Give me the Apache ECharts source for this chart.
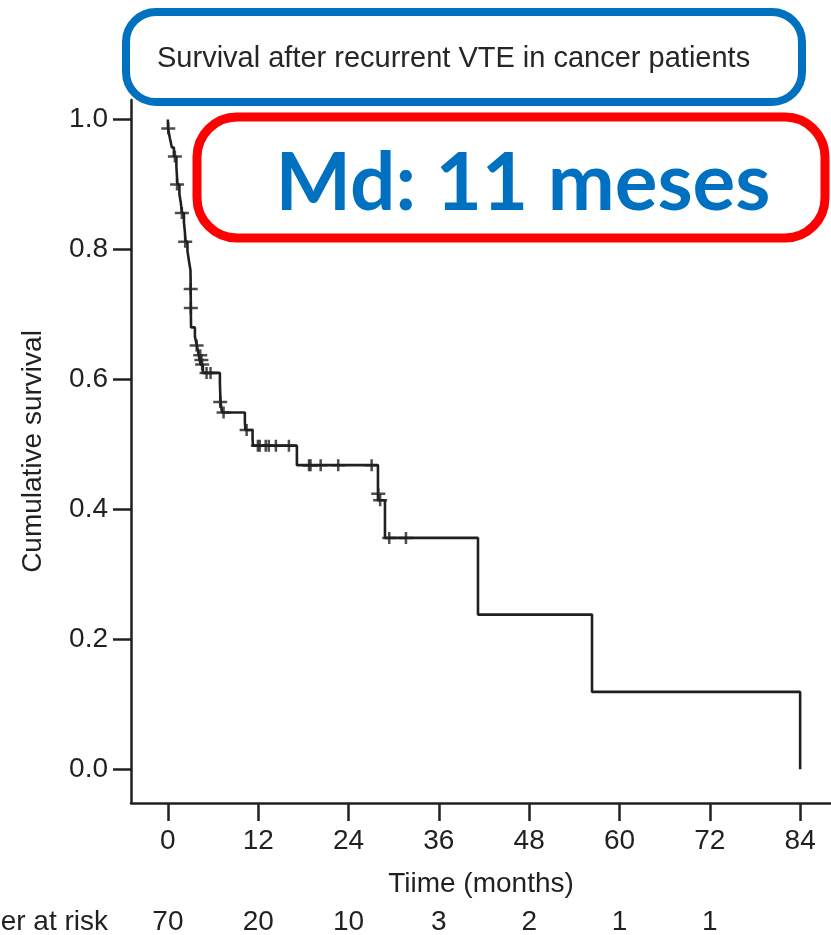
<!DOCTYPE html>
<html><head><meta charset="utf-8">
<script src="https://cdn.jsdelivr.net/npm/echarts@6/dist/echarts.min.js"></script>
<style>html,body{margin:0;padding:0;background:#fff}#c{width:831px;height:935px}</style>
</head><body><div id="c"></div>
<script>
const titleText = 'Survival after recurrent VTE in cancer patients';
const medianText = 'Md: 11 meses';
const xName = 'Tiime (months)';
const yName = 'Cumulative survival';
const riskTitle = 'Number at risk';
const xTicks = [0, 12, 24, 36, 48, 60, 72, 84];
const yTicks = [0, 0.2, 0.4, 0.6, 0.8, 1.0];

const stepTimes = [0, 0.02, 0.27, 0.53, 0.80, 1.13, 1.20, 1.26, 1.53, 1.73, 1.86, 2.13, 2.26, 2.33, 2.60, 2.79,
  3.00, 3.02, 3.03, 3.04, 3.05, 3.06, 3.08, 3.59, 3.85, 4.10, 4.35, 4.65,
  6.91, 6.95, 7.00, 7.20, 10.23, 10.30, 11.25, 11.30, 17.14, 27.91, 28.84, 41.20, 56.35, 84.00];
const stepSurv = [1.0, 0.986, 0.971, 0.957, 0.943, 0.928, 0.914, 0.900, 0.885, 0.871, 0.856, 0.842, 0.827, 0.812, 0.798, 0.783,
  0.768, 0.754, 0.739, 0.724, 0.710, 0.695, 0.680, 0.666, 0.652, 0.637, 0.623, 0.610,
  0.595, 0.580, 0.565, 0.549, 0.535, 0.522, 0.510, 0.498, 0.468, 0.414, 0.356, 0.238, 0.119, 0.000];

const censorTimes = [0.05, 0.93, 1.22, 1.86, 2.30, 3.03, 3.05, 3.82, 4.30, 4.45, 4.55, 5.14, 5.67,
  6.95, 7.40, 10.46, 11.96, 12.20, 13.00, 13.40, 14.35, 16.08,
  18.75, 18.95, 20.30, 22.63, 27.07, 27.95, 28.20, 29.41, 31.63];
const censorSurv = [0.986, 0.943, 0.900, 0.856, 0.812, 0.739, 0.710, 0.652, 0.637, 0.630, 0.623, 0.610, 0.610,
  0.565, 0.549, 0.522, 0.498, 0.498, 0.498, 0.498, 0.498, 0.498,
  0.468, 0.468, 0.468, 0.468, 0.468, 0.424, 0.414, 0.356, 0.356];

const riskTimes = [0, 12, 24, 36, 48, 60, 72];
const riskCounts = [70, 20, 10, 3, 2, 1, 1];

const ink = '#231f20';
const FONT = '"Liberation Sans", Arial, sans-serif';
const chart = echarts.init(document.getElementById('c'));

const stepData = stepTimes.map((t, i) => [t, stepSurv[i]]);
const censorData = censorTimes.map((t, i) => [t, censorSurv[i]]);

chart.setOption({
  backgroundColor: '#fff',
  animation: false,
  grid: { left: 131, right: 0, top: 100, bottom: 132, containLabel: false },
  xAxis: {
    type: 'value', min: -4.9, max: 88.1,
    name: xName, nameLocation: 'middle', nameGap: 67,
    nameTextStyle: { color: ink, fontSize: 28, fontFamily: FONT },
    axisLine: { show: true, onZero: false, lineStyle: { color: ink, width: 2.5 } },
    axisTick: { show: true, length: 18, inside: false, customValues: xTicks, lineStyle: { color: ink, width: 2.5 } },
    axisLabel: { show: true, customValues: xTicks, margin: 24, color: ink, fontSize: 28, fontFamily: FONT },
    splitLine: { show: false }
  },
  yAxis: {
    type: 'value', min: -0.052, max: 1.03,
    name: yName, nameLocation: 'middle', nameGap: 84, nameRotate: 90,
    nameTextStyle: { color: ink, fontSize: 28, fontFamily: FONT },
    axisLine: { show: true, onZero: false, lineStyle: { color: ink, width: 2.5 } },
    axisTick: { show: true, length: 18, inside: false, customValues: yTicks, lineStyle: { color: ink, width: 2.5 } },
    axisLabel: { show: true, customValues: yTicks, margin: 23, color: ink, fontSize: 28, fontFamily: FONT,
      formatter: v => v.toFixed(1) },
    splitLine: { show: false }
  },
  series: [
    { type: 'line', data: stepData, step: 'end', showSymbol: false, symbol: 'none',
      lineStyle: { color: ink, width: 2.6 }, z: 3 },
    { type: 'scatter', data: censorData,
      symbol: 'path://M0,4.75 H14 V7.25 H0 Z M5.75,0 H8.25 V12 H5.75 Z', symbolSize: [14, 12],
      itemStyle: { color: ink }, z: 4 }
  ]
});

const riskGraphics = riskTimes.map((t, i) => {
  const px = chart.convertToPixel({ xAxisIndex: 0 }, t);
  return { type: 'text', x: px, y: 922, z: 50,
    style: { text: String(riskCounts[i]), font: '28px ' + FONT, fill: ink, textAlign: 'center', textVerticalAlign: 'middle' } };
});

chart.setOption({
  graphic: [
    { type: 'rect', z: 100, shape: { x: 126, y: 12, width: 676, height: 90, r: 30 },
      style: { fill: '#fff', stroke: '#0070c0', lineWidth: 8 } },
    { type: 'text', z: 101, x: 157, y: 59,
      style: { text: titleText, font: '29px ' + FONT, fill: '#262626', textAlign: 'left', textVerticalAlign: 'middle' } },
    { type: 'rect', z: 100, shape: { x: 197, y: 117, width: 628, height: 121, r: 40 },
      style: { fill: '#fff', stroke: '#ff0000', lineWidth: 9 } },
    { type: 'text', z: 101, x: 523, y: 184,
      style: { text: medianText, font: 'bold 80px Lato, "Open Sans", sans-serif', fill: '#0070c0', textAlign: 'center', textVerticalAlign: 'middle' } },
    { type: 'text', z: 50, x: 108, y: 922,
      style: { text: riskTitle, font: '28px ' + FONT, fill: ink, textAlign: 'right', textVerticalAlign: 'middle' } }
  ].concat(riskGraphics)
});
</script>
</body></html>
